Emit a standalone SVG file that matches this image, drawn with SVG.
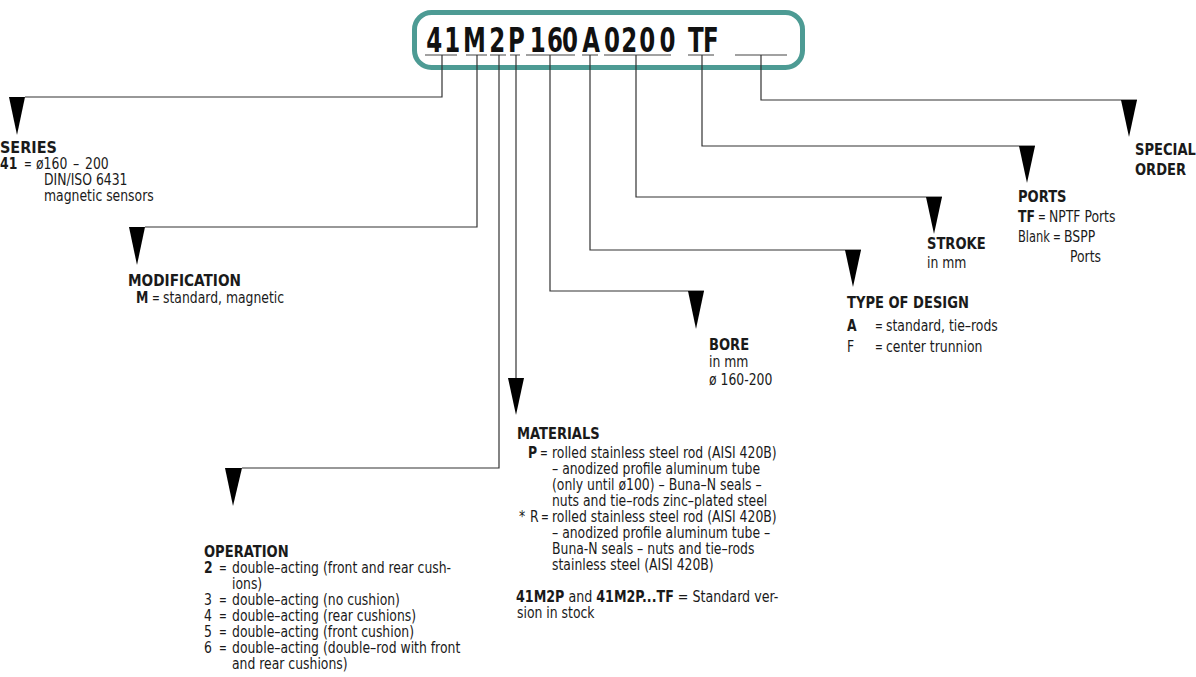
<svg xmlns="http://www.w3.org/2000/svg" width="1196" height="677" viewBox="0 0 1196 677">
<style>
text{font-family:"DejaVu Sans Condensed","Liberation Sans Narrow","Liberation Sans",sans-serif;font-stretch:condensed;fill:#1a1a1a;font-size:15px}
.h{font-weight:bold;font-size:16px}
.b{font-weight:bold}
.title{font-weight:bold;font-size:34px;fill:#111}
.c{fill:none;stroke:#333;stroke-width:1.2}
.u{fill:none;stroke:#444;stroke-width:1.2}
.ar{fill:#000}
</style>
<rect width="1196" height="677" fill="#fff"/>
<g id="code">
<rect x="414.5" y="12.5" width="388" height="55" rx="17" fill="#fff" stroke="#4d9b94" stroke-width="5"/>
<text class="title" transform="translate(427 52) scale(0.75 1)" x="-1 23 48 83 108 137 160 180 207 236 259 283 310 337 348 368" y="0">41M2P160A0200 TF</text>
<path class="u" d="M425 55H457M466 55H487M490 55H506M510 55H520M526 55H575M582 55H598M604 55H671M688 55H714M735 55H787"/>
</g>
<g id="connectors">
<path class="c" d="M442 55V97H25"/>
<path class="c" d="M477 55V227H145"/>
<path class="c" d="M499 55V468H242"/>
<path class="c" d="M516 55V378"/>
<path class="c" d="M550 55V291H704"/>
<path class="c" d="M590 55V250H861"/>
<path class="c" d="M636 55V197H942"/>
<path class="c" d="M702 55V146H1035"/>
<path class="c" d="M761 55V100H1137"/>
<polygon class="ar" points="9,97 25,97 17,135"/>
<polygon class="ar" points="129,227 145,227 137,265"/>
<polygon class="ar" points="225,468 242,468 233,506"/>
<polygon class="ar" points="508,378 524,378 516,415"/>
<polygon class="ar" points="688,291 704,291 696,329"/>
<polygon class="ar" points="845,250 861,250 853,287"/>
<polygon class="ar" points="926,197 942,197 934,234"/>
<polygon class="ar" points="1019,146 1035,146 1027,183"/>
<polygon class="ar" points="1121,100 1137,100 1129,137"/>
</g>
<g id="series">
<g transform="matrix(1 0 0 1 0 0)"><text class="h" y="153">SERIES</text></g>
<g transform="matrix(.92 0 0 1 0 0)"><text class="b" y="169">41</text></g>
<g transform="matrix(.69 0 0 1 24 0)"><text y="169">=</text></g>
<g transform="matrix(.92 0 0 1 36 0)"><text y="169" word-spacing="2">ø160 – 200</text></g>
<g transform="matrix(.92 0 0 1 44 0)">
<text y="185">DIN/ISO 6431</text>
<text y="201">magnetic sensors</text>
</g>
</g>
<g id="modification">
<g transform="matrix(.95 0 0 1 128 0)"><text class="h" y="286">MODIFICATION</text></g>
<g transform="matrix(.92 0 0 1 136 0)"><text class="b" y="303">M</text></g>
<g transform="matrix(.69 0 0 1 152 0)"><text y="303">=</text></g>
<g transform="matrix(.92 0 0 1 163 0)"><text y="303">standard, magnetic</text></g>
</g>
<g id="operation">
<g transform="matrix(.91 0 0 1 204 0)"><text class="h" y="557">OPERATION</text></g>
<g transform="matrix(.92 0 0 1 204 0)">
<text class="b" y="573">2</text>
<text y="605">3</text>
<text y="621">4</text>
<text y="637">5</text>
<text y="653">6</text>
</g>
<g transform="matrix(.69 0 0 1 219 0)">
<text y="573">=</text>
<text y="605">=</text>
<text y="621">=</text>
<text y="637">=</text>
<text y="653">=</text>
</g>
<g transform="matrix(.92 0 0 1 232 0)">
<text y="573">double–acting (front and rear cush-</text>
<text y="589">ions)</text>
<text y="605">double–acting (no cushion)</text>
<text y="621">double–acting (rear cushions)</text>
<text y="637">double–acting (front cushion)</text>
<text y="653">double–acting (double–rod with front</text>
<text y="669">and rear cushions)</text>
</g>
</g>
<g id="materials">
<g transform="matrix(.91 0 0 1 517 0)"><text class="h" y="439">MATERIALS</text></g>
<g transform="matrix(.92 0 0 1 517 0)"><text y="618">sion in stock</text></g>
<g transform="matrix(.92 0 0 1 528 0)"><text class="b" y="458">P</text></g>
<g transform="matrix(.69 0 0 1 540 0)"><text y="458">=</text></g>
<g transform="matrix(.92 0 0 1 519 0)"><text y="522">*</text></g>
<g transform="matrix(.92 0 0 1 530 0)"><text y="522">R</text></g>
<g transform="matrix(.69 0 0 1 541 0)"><text y="522">=</text></g>
<g transform="matrix(.92 0 0 1 552 0)">
<text y="458">rolled stainless steel rod (AISI 420B)</text>
<text y="474">– anodized profile aluminum tube</text>
<text y="490">(only until ø100) – Buna–N seals –</text>
<text y="506">nuts and tie–rods zinc–plated steel</text>
<text y="522">rolled stainless steel rod (AISI 420B)</text>
<text y="538">– anodized profile aluminum tube –</text>
<text y="554">Buna-N seals – nuts and tie–rods</text>
<text y="570">stainless steel (AISI 420B)</text>
</g>
<g transform="matrix(.94 0 0 1 516 0)"><text y="602"><tspan class="b">41M2P</tspan> and <tspan class="b">41M2P...TF</tspan> = Standard ver-</text></g>
</g>
<g id="bore">
<g transform="matrix(.91 0 0 1 709 0)"><text class="h" y="350">BORE</text></g>
<g transform="matrix(.92 0 0 1 709 0)">
<text y="367">in mm</text>
<text y="385">ø 160-200</text>
</g>
</g>
<g id="type-of-design">
<g transform="matrix(.91 0 0 1 847 0)"><text class="h" y="308">TYPE OF DESIGN</text></g>
<g transform="matrix(.92 0 0 1 847 0)">
<text class="b" y="331">A</text>
<text y="352">F</text>
</g>
<g transform="matrix(.69 0 0 1 875 0)">
<text y="331">=</text>
<text y="352">=</text>
</g>
<g transform="matrix(.92 0 0 1 886 0)">
<text y="331">standard, tie–rods</text>
<text y="352">center trunnion</text>
</g>
</g>
<g id="stroke">
<g transform="matrix(.91 0 0 1 927 0)"><text class="h" y="249">STROKE</text></g>
<g transform="matrix(.92 0 0 1 927 0)"><text y="268">in mm</text></g>
</g>
<g id="ports">
<g transform="matrix(.91 0 0 1 1018 0)"><text class="h" y="202">PORTS</text></g>
<g transform="matrix(.92 0 0 1 1018 0)"><text class="b" y="222">TF</text></g>
<g transform="matrix(.85 0 0 1 1018 0)"><text y="242">Blank</text></g>
<g transform="matrix(.69 0 0 1 1038 0)"><text y="222">=</text></g>
<g transform="matrix(.92 0 0 1 1049 0)"><text y="222">NPTF Ports</text></g>
<g transform="matrix(.69 0 0 1 1053 0)"><text y="242">=</text></g>
<g transform="matrix(.92 0 0 1 1064 0)"><text y="242">BSPP</text></g>
<g transform="matrix(.92 0 0 1 1070 0)"><text y="262">Ports</text></g>
</g>
<g id="special-order">
<g transform="matrix(.91 0 0 1 1135 0)">
<text class="h" y="155">SPECIAL</text>
<text class="h" y="175">ORDER</text>
</g>
</g>
</svg>
